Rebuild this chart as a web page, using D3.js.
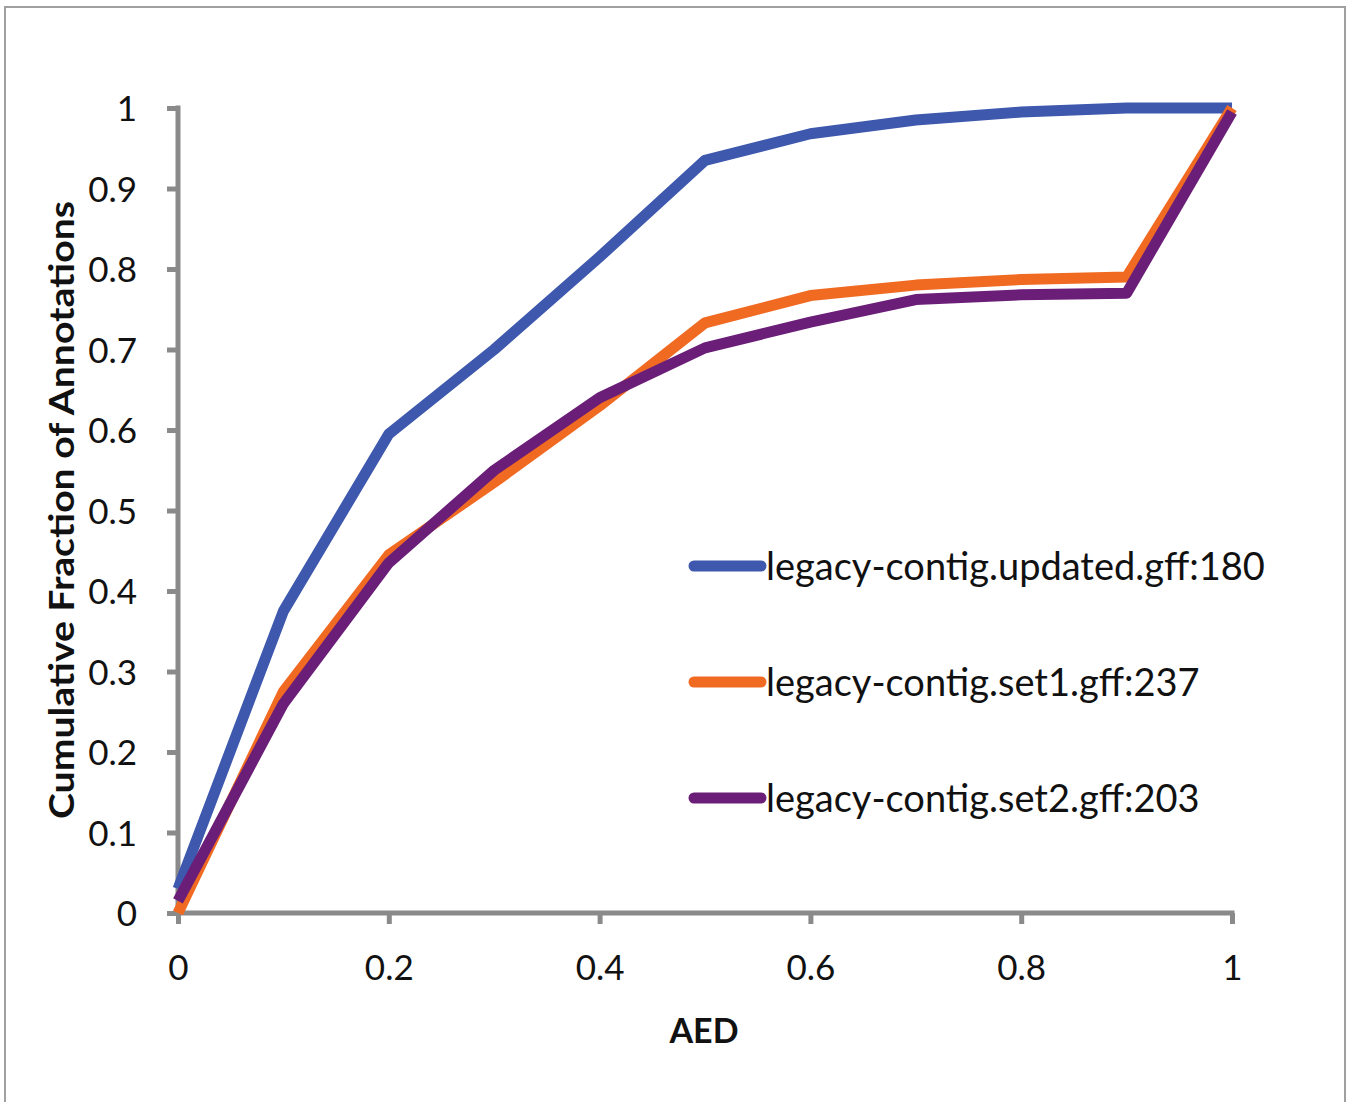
<!DOCTYPE html>
<html>
<head>
<meta charset="utf-8">
<script src="https://cdn.jsdelivr.net/npm/d3@7"></script>
<style>
  body { margin: 0; background: #fff; }
</style>
</head>
<body>
<div id="chart"></div>
<script>
// data
var aed = [0, 0.1, 0.2, 0.3, 0.4, 0.5, 0.6, 0.7, 0.8, 0.9, 1.0];
var updated = [0.03, 0.375, 0.595, 0.70, 0.815, 0.935, 0.968, 0.985, 0.995, 1.0, 1.0];
var set1    = [0.0, 0.275, 0.445, 0.535, 0.630, 0.733, 0.767, 0.780, 0.787, 0.790, 1.0];
var set2    = [0.015, 0.26, 0.435, 0.55, 0.640, 0.702, 0.734, 0.762, 0.768, 0.770, 0.995];
var seriesNames = ["legacy-contig.updated.gff:180", "legacy-contig.set1.gff:237", "legacy-contig.set2.gff:203"];
var seriesColors = ["#3d58ad", "#f06a22", "#6b1e78"];
var xTicks = [0, 0.2, 0.4, 0.6, 0.8, 1];
var yTicks = [0, 0.1, 0.2, 0.3, 0.4, 0.5, 0.6, 0.7, 0.8, 0.9, 1];

var W = 1350, H = 1102;
var margin = {top: 108, right: 118, bottom: 189, left: 178},
  width = W - margin.left - margin.right,
  height = H - margin.top - margin.bottom;

var svg = d3.select("#chart").append("svg")
  .attr("width", W)
  .attr("height", H);

// outer frame
svg.append("rect")
  .attr("x", 5).attr("y", 7)
  .attr("width", 1340).attr("height", 1100)
  .attr("fill", "none")
  .attr("stroke", "#a0a0a0")
  .attr("stroke-width", 2);

var g = svg.append("g")
  .attr("transform", "translate(" + margin.left + "," + margin.top + ")");

var x = d3.scaleLinear().domain([0, 1]).range([0, width]);
var y = d3.scaleLinear().domain([0, 1]).range([height, 0]);

var axisColor = "#8a8a8a";
var font = "Lato, 'Open Sans', sans-serif";

// y axis
var yAxis = g.append("g")
  .call(d3.axisLeft(y).tickValues(yTicks).tickFormat(d3.format("")).tickSize(11).tickPadding(30));
yAxis.selectAll("line").attr("stroke", axisColor).attr("stroke-width", 5);
yAxis.select(".domain").attr("stroke", axisColor).attr("stroke-width", 5).attr("d", "M0," + (height + 2.5) + "V-2.5");
yAxis.selectAll("text")
  .style("font-family", font)
  .style("font-size", "35px")
  .attr("fill", "#111")
  .attr("dy", "0.36em");

// x axis
var xAxis = g.append("g")
  .attr("transform", "translate(0," + height + ")")
  .call(d3.axisBottom(x).tickValues(xTicks).tickFormat(d3.format("")).tickSize(11).tickPadding(31));
xAxis.selectAll("line").attr("stroke", axisColor).attr("stroke-width", 5);
xAxis.select(".domain").attr("stroke", axisColor).attr("stroke-width", 5).attr("d", "M-2.5,0H" + (width + 2.5));
xAxis.selectAll("text")
  .style("font-family", font)
  .style("font-size", "35px")
  .attr("fill", "#111");

// axis titles
svg.append("text")
  .attr("transform", "translate(74,510) rotate(-90)")
  .attr("text-anchor", "middle")
  .attr("textLength", 618)
  .attr("lengthAdjust", "spacingAndGlyphs")
  .style("font-family", font)
  .style("font-size", "35px")
  .style("font-weight", "bold")
  .attr("fill", "#111")
  .text("Cumulative Fraction of Annotations");

svg.append("text")
  .attr("x", 704).attr("y", 1043)
  .attr("text-anchor", "middle")
  .style("font-family", font)
  .style("font-size", "34px")
  .style("font-weight", "bold")
  .attr("fill", "#111")
  .text("AED");

// lines
var allSeries = [updated, set1, set2];
var line = d3.line()
  .x(function(d, i) { return x(aed[i]); })
  .y(function(d) { return y(d); });

g.selectAll(".series")
  .data(allSeries)
  .enter()
  .append("path")
    .attr("class", "series")
    .attr("d", line)
    .attr("fill", "none")
    .attr("stroke", function(d, i) { return seriesColors[i]; })
    .attr("stroke-width", 11)
    .attr("stroke-linejoin", "round")
    .attr("stroke-linecap", "butt");

// legend
var legend = svg.append("g");
var rows = legend.selectAll("g")
  .data(seriesNames)
  .enter()
  .append("g")
    .attr("transform", function(d, i) { return "translate(694," + (566 + i * 116) + ")"; });
rows.append("line")
  .attr("x1", 0).attr("x2", 67)
  .attr("stroke", function(d, i) { return seriesColors[i]; })
  .attr("stroke-width", 11)
  .attr("stroke-linecap", "round");
rows.append("text")
  .attr("x", 72).attr("y", 14)
  .style("font-family", font)
  .style("font-size", "38px")
  .attr("fill", "#111")
  .text(function(d) { return d; });
</script>
</body>
</html>
